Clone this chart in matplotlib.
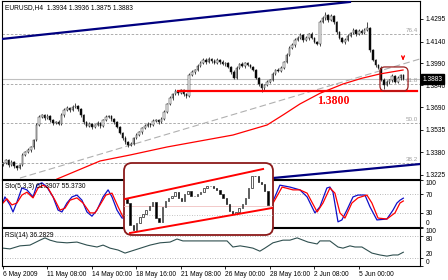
import matplotlib.pyplot as plt
from matplotlib.patches import FancyBboxPatch
from matplotlib.transforms import IdentityTransform, blended_transform_factory

plt.rcParams['font.family'] = ['Liberation Sans', 'DejaVu Sans']

# EURUSD H4 candles (close of each bar, open = previous close)
first_open = 1.3300
closes = [
    1.3307, 1.3328, 1.3293, 1.3314, 1.3287, 1.3273, 1.3293, 1.3362, 1.3383, 1.3396,
    1.3417, 1.3465, 1.3568, 1.3623, 1.3636, 1.3616, 1.3630, 1.3602, 1.3582, 1.3588,
    1.3575, 1.3636, 1.3671, 1.3684, 1.3671, 1.3691, 1.3698, 1.3678, 1.3636, 1.3588,
    1.3561, 1.3575, 1.3554, 1.3568, 1.3582, 1.3561, 1.3602, 1.3623, 1.3630, 1.3609,
    1.3588, 1.3554, 1.3513, 1.3479, 1.3451, 1.3431, 1.3438, 1.3479, 1.3499, 1.3520,
    1.3547, 1.3561, 1.3575, 1.3568, 1.3595, 1.3602, 1.3588, 1.3609, 1.3657, 1.3712,
    1.3753, 1.3780, 1.3801, 1.3787, 1.3808, 1.3780, 1.3767, 1.3911, 1.3931, 1.3945,
    1.3973, 1.3993, 1.4014, 1.4000, 1.4021, 1.4007, 1.3993, 1.4014, 1.4000, 1.3986,
    1.3993, 1.3966, 1.3931, 1.3890, 1.3959, 1.3986, 1.3973, 1.3993, 1.3979, 1.3966,
    1.3945, 1.3890, 1.3849, 1.3822, 1.3842, 1.3863, 1.3877, 1.3918, 1.3945, 1.3938,
    1.3959, 1.4000, 1.4048, 1.4096, 1.4117, 1.4151, 1.4165, 1.4185, 1.4151, 1.4165,
    1.4192, 1.4165, 1.4137, 1.4123, 1.4274, 1.4302, 1.4322, 1.4288, 1.4316, 1.4274,
    1.4206, 1.4165, 1.4137, 1.4151, 1.4178, 1.4199, 1.4220, 1.4192, 1.4213, 1.4199,
    1.4220, 1.4233, 1.4082, 1.4014, 1.3979, 1.3959, 1.3877, 1.3842, 1.3863, 1.3877,
    1.3904, 1.3863, 1.3890, 1.3911, 1.3883,
]
# wick lengths in pips
upper_wick = [
    8, 10, 6, 12, 9, 7, 10, 14, 8, 12,
    10, 9, 15, 12, 10, 8, 11, 9, 7, 10,
    12, 14, 10, 15, 9, 12, 18, 10, 8, 6,
    9, 11, 7, 10, 12, 8, 10, 13, 9, 7,
    8, 6, 9, 7, 10, 8, 12, 9, 11, 10,
    9, 12, 10, 8, 11, 9, 10, 12, 14, 10,
    12, 9, 11, 8, 10, 7, 9, 15, 12, 10,
    11, 13, 14, 10, 12, 9, 11, 10, 8, 12,
    10, 9, 7, 11, 14, 10, 12, 9, 10, 8,
    7, 6, 8, 9, 10, 12, 9, 11, 10, 12,
    14, 10, 12, 11, 13, 15, 12, 14, 9, 11,
    10, 12, 8, 9, 14, 12, 21, 10, 12, 9,
    10, 8, 9, 12, 11, 10, 13, 9, 12, 10,
    11, 41, 8, 10, 9, 7, 12, 10, 11, 9,
    12, 10, 11, 9, 8,
]
lower_wick = [
    10, 8, 12, 9, 11, 14, 9, 7, 10, 8,
    12, 15, 9, 8, 10, 12, 9, 11, 13, 10,
    9, 8, 11, 10, 12, 9, 10, 13, 12, 11,
    10, 9, 12, 8, 10, 11, 9, 8, 10, 12,
    11, 10, 9, 12, 13, 14, 10, 8, 9, 10,
    11, 9, 10, 12, 8, 10, 11, 9, 7, 8,
    10, 12, 9, 11, 8, 10, 12, 9, 8, 10,
    9, 8, 10, 12, 9, 11, 10, 9, 12, 10,
    11, 10, 12, 10, 9, 8, 10, 11, 9, 10,
    9, 10, 12, 28, 11, 9, 10, 8, 9, 10,
    8, 9, 10, 8, 9, 11, 10, 9, 12, 10,
    11, 10, 9, 8, 10, 9, 11, 12, 10, 11,
    12, 10, 9, 11, 10, 9, 10, 12, 9, 10,
    8, 10, 12, 9, 11, 10, 10, 27, 9, 11,
    12, 9, 10, 11, 8,
]

price_ticks = [1.4295, 1.4140, 1.3990, 1.3840, 1.3690, 1.3535, 1.3380, 1.3225]
time_ticks = [0, 16, 32, 48, 64, 80, 96, 112, 128]
time_labels = ['6 May 2009', '11 May 08:00', '14 May 00:00', '18 May 16:00',
               '21 May 08:00', '26 May 00:00', '28 May 16:00', '2 Jun 08:00',
               '5 Jun 00:00']

fib_levels = [1.4192, 1.3849, 1.3582, 1.3307]
fib_names = ['76.4', '61.8', '50.0', '38.2']
last_price = 1.3883
support = 1.3800

# drawn objects, (bar, price) end points
upper_line_x, upper_line_y = [-0.36, 124.8], [1.4158, 1.4412]
lower_line_x, lower_line_y = [93.2, 150], [1.3197, 1.3300]
gray_line_x, gray_line_y = [6.1, 150], [1.3204, 1.4021]
ma_bars = [19.4, 34.9, 45.7, 59, 82.7, 95, 101, 106.8, 114, 122.3, 129, 135.6, 143.9]
ma_vals = [1.3197, 1.3321, 1.3362, 1.3417, 1.3499, 1.3568, 1.3640, 1.3712, 1.3785,
           1.3849, 1.3888, 1.3918, 1.3945]

# Stochastic (5,3,3)
k_bars = [0, 0.7, 2.5, 3.6, 5, 6.8, 8.6, 10.8, 12.2, 14, 15.8, 18, 19.8, 21.2, 23,
          24.8, 26.6, 28.4, 30.2, 32, 33.8, 36, 37.8, 39.2, 41, 42.8, 96, 97.8, 99.6,
          103.2, 106.8, 109.4, 112.2, 114, 116.5, 117.6, 118.7, 120.5, 121.9, 123.7,
          125.9, 127.7, 130.2, 132, 134.5, 138.1, 140.3, 141.7, 142.8, 144]
k_vals = [53, 64, 47, 32, 53, 83, 79, 64, 89, 94, 85, 64, 36, 32, 51, 64, 68, 57, 32,
          23, 36, 64, 79, 64, 36, 19, 40, 64, 89, 85, 79, 64, 30, 43, 83, 85, 74, 11,
          15, 36, 64, 68, 68, 43, 15, 17, 36, 51, 57, 61.39]
d_bars = [0, 1.4, 3.2, 5, 6.8, 8.6, 10.8, 12.6, 14.4, 16.2, 18.7, 20.5, 22.3, 24.1,
          26.6, 28.8, 31.3, 33.1, 34.9, 37, 39.2, 41.4, 43.2, 96.8, 100.4, 104.3,
          106.8, 109.4, 113, 115.1, 117.6, 119.4, 121.2, 123, 125.5, 127.7, 130.9,
          132.7, 134.9, 138.1, 141, 142.8, 144]
d_vals = [51, 60, 47, 51, 68, 74, 62, 83, 89, 83, 57, 36, 40, 57, 62, 51, 30, 30, 47,
          68, 72, 43, 21, 47, 85, 79, 79, 72, 32, 51, 83, 72, 30, 19, 51, 62, 68, 51,
          19, 17, 30, 51, 55.37]

# RSI(14)
rsi_bars = [0, 2.5, 6.1, 9.7, 13.3, 15.1, 16.9, 19.4, 23, 26.6, 30.2, 33.8, 36, 38.5,
            41.4, 43.9, 52.9, 56.5, 60.1, 62.6, 64.7, 80.6, 82.7, 85.3, 87.8, 89.9,
            92.4, 94.2, 97.1, 100.7, 103.2, 105.8, 109.7, 113, 114, 117.6, 120.5,
            122.3, 124.8, 126.6, 129.1, 132.7, 135.6, 138.1, 140.3, 142.1, 144]
rsi_vals = [47, 45, 53, 55, 68, 74, 68, 63, 61, 63, 55, 50, 55, 47, 42, 34, 55, 61, 63,
            71, 66, 66, 50, 53, 50, 47, 39, 47, 61, 68, 68, 74, 63, 58, 66, 66, 50, 47,
            53, 50, 50, 34, 29, 26, 29, 29, 36.28]

# zoomed inset: channel of the recent swing
inset_first_open = 1.4152
inset_closes = [
    1.4124, 1.3970, 1.3935, 1.3984, 1.4026, 1.4047, 1.4075, 1.4103, 1.4131, 1.4019,
    1.3991, 1.4096, 1.4138, 1.4159, 1.4173, 1.4201, 1.4159, 1.4138, 1.4187, 1.4208,
    1.4173, 1.4173, 1.4187, 1.4201, 1.4229, 1.4243, 1.4243, 1.4229, 1.4215, 1.4187,
    1.4159, 1.4117, 1.4068, 1.4047, 1.4061, 1.4089, 1.4117, 1.4159, 1.4229, 1.4313,
    1.4313, 1.4271, 1.4257, 1.4208, 1.4110,
]
inset_upper_x, inset_upper_y = [-0.63, 42.5], [1.4152, 1.4362]
inset_lower_x, inset_lower_y = [0.94, 45.3], [1.3914, 1.4089]

W, H = 448, 280
fig = plt.figure(figsize=(W / 100, H / 100), dpi=100, facecolor='white')


def px_axes(left, top, right, bottom):
    return fig.add_axes([left / W, 1 - bottom / H, (right - left) / W, (bottom - top) / H])


def candles(axis, first, cl, up, dn, width, lw):
    xs = list(range(len(cl)))
    op = [first] + cl[:-1]
    lo_b = [min(o, c) for o, c in zip(op, cl)]
    h_b = [max(abs(c - o), 0.00006) for o, c in zip(op, cl)]
    cols = ['white' if c >= o else 'black' for o, c in zip(op, cl)]
    if up is not None:
        hi = [max(o, c) + w * 0.0001 for o, c, w in zip(op, cl, up)]
        lo = [min(o, c) - w * 0.0001 for o, c, w in zip(op, cl, dn)]
        axis.vlines(xs, lo, hi, color='black', lw=0.5, zorder=3)
    axis.bar(xs, h_b, bottom=lo_b, width=width, color=cols, edgecolor='#202020',
             linewidth=lw, zorder=4)


def round_box(axis, x0, y0, x1, y1, radius, trans, **kw):
    (a, b), (c, d) = trans.transform([(x0, y0), (x1, y1)])
    patch = FancyBboxPatch((min(a, c), min(b, d)), abs(c - a), abs(d - b),
                           boxstyle=f'round,pad=0,rounding_size={radius}',
                           transform=IdentityTransform(), clip_on=False, **kw)
    axis.add_patch(patch)


def style(axis):
    for s in axis.spines.values():
        s.set_color('black')
        s.set_linewidth(0.8)
    axis.yaxis.tick_right()
    axis.tick_params(axis='y', labelsize=4.8, length=2.5, width=0.6, pad=1.5)


ax = px_axes(2, 1, 420, 179)
ax_st = px_axes(2, 180, 420, 227)
ax_rsi = px_axes(2, 228, 420, 266)

# ---- main price panel ----
ax.set_xlim(-0.36, 150)
ax.set_ylim(1.31974, 1.44184)
for lvl, name in zip(fib_levels, fib_names):
    ax.axhline(lvl, color='#A0A0A0', lw=0.6, dashes=(3, 2), zorder=1)
    ax.text(149.3, lvl + 0.0004, name, color='#A0A0A0', fontsize=4.5,
            ha='right', va='bottom', zorder=2)
ax.axhline(last_price, color='#C0C0C0', lw=0.8, zorder=1)
ax.plot(gray_line_x, gray_line_y, color='#B0B0B0', lw=0.8, dashes=(6, 3), zorder=2)
candles(ax, first_open, closes, upper_wick, lower_wick, 0.55, 0.35)
ax.plot(ma_bars, ma_vals, color='red', lw=0.9, zorder=5)
ax.plot(upper_line_x, upper_line_y, color='#000080', lw=1.6, zorder=5)
ax.plot(lower_line_x, lower_line_y, color='#000080', lw=1.6, zorder=5)
ax.plot([62.9, 148.9], [support, support], color='red', lw=1.6, zorder=5)
ax.text(118.7, 1.3732, '1.3800', color='red', fontsize=8.5, fontweight='bold',
        family='Liberation Serif', ha='center', va='center', zorder=6)
ax.annotate('', xy=(143.9, 1.3993), xytext=(143.9, 1.4043),
            arrowprops=dict(arrowstyle='->', color='red', lw=1.0, mutation_scale=5),
            zorder=6)
round_box(ax, 135.6, 1.3966, 145.7, 1.3801, 5, ax.transData,
          facecolor='none', edgecolor='#9B2020', lw=0.9, zorder=6)
ax.text(0.007, 0.965, 'EURUSD,H4  1.3934 1.3936 1.3875 1.3883', transform=ax.transAxes,
        fontsize=4.8, ha='left', va='center')
style(ax)
ax.set_xticks([])
ax.set_yticks(price_ticks)
ax.set_yticklabels([f'{v:.4f}' for v in price_ticks])
ax.text(1.006, last_price, f'{last_price:.4f}', color='white', fontsize=4.8,
        ha='left', va='center',
        transform=blended_transform_factory(ax.transAxes, ax.transData),
        bbox=dict(facecolor='black', edgecolor='black', pad=0.9), clip_on=False, zorder=7)

# ---- stochastic ----
ax_st.set_xlim(-0.36, 150)
ax_st.set_ylim(0, 100)
for lvl in [70, 30]:
    ax_st.axhline(lvl, color='#A0A0A0', lw=0.6, ls=(0, (1, 2)))
ax_st.plot(k_bars, k_vals, color='#1010C8', lw=0.9)
ax_st.plot(d_bars, d_vals, color='red', lw=0.9)
ax_st.text(0.007, 0.87, 'Sto(5,3,3) 61.3907 55.3730', transform=ax_st.transAxes,
           fontsize=4.8, ha='left', va='center')
style(ax_st)
ax_st.set_xticks([])
ax_st.set_yticks([0, 30, 70, 100])

# ---- RSI ----
ax_rsi.set_xlim(-0.36, 150)
ax_rsi.set_ylim(0, 100)
for lvl in [80, 20]:
    ax_rsi.axhline(lvl, color='#A0A0A0', lw=0.6, ls=(0, (1, 2)))
ax_rsi.plot(rsi_bars, rsi_vals, color='#2F4F4F', lw=0.8)
ax_rsi.text(0.007, 0.79, 'RSI(14) 36.2829', transform=ax_rsi.transAxes,
            fontsize=4.8, ha='left', va='center')
style(ax_rsi)
ax_rsi.set_yticks([0, 20, 80, 100])
ax_rsi.set_xticks(time_ticks)
ax_rsi.set_xticklabels(time_labels, ha='left')
ax_rsi.tick_params(axis='x', labelsize=4.8, length=2.5, width=0.6, pad=1)

for a in (ax_st, ax_rsi):
    labs = a.get_yticklabels()
    labs[0].set_va('bottom')
    labs[-1].set_va('top')
rsi_labs = ax_rsi.get_yticklabels()
rsi_labs[1].set_va('bottom')
rsi_labs[2].set_va('top')

# ---- zoomed inset ----
ax_in = px_axes(124, 163, 273, 235)
ax_in.set_axis_off()
ax_in.patch.set_visible(False)
ax_in.set_xlim(-0.94, 45.6)
ax_in.set_ylim(1.3900, 1.4404)
round_box(ax_in, -0.94, 1.3900, 45.6, 1.4404, 8, ax_in.transData,
          facecolor='white', edgecolor='#8B1A1A', lw=1.3, zorder=0)
ax_in.axhline(1.4103, color='#F0C0C0', lw=0.6, zorder=1)
ax_in.axhline(1.4040, color='#B0B0B0', lw=0.6, ls=(0, (1, 2)), zorder=1)
candles(ax_in, inset_first_open, inset_closes, None, None, 0.45, 0.5)
ax_in.plot(inset_upper_x, inset_upper_y, color='red', lw=1.4, zorder=5)
ax_in.plot(inset_lower_x, inset_lower_y, color='red', lw=1.4, zorder=5)

fig.savefig('out.png', dpi=100)
